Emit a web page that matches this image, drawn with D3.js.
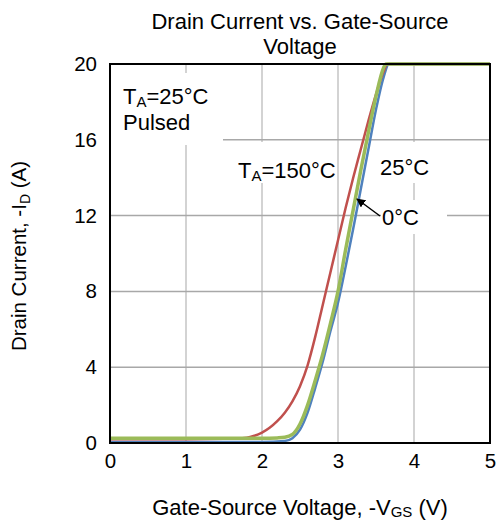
<!DOCTYPE html>
<html><head><meta charset="utf-8">
<script src="https://cdn.jsdelivr.net/npm/d3@7"></script>
<style>body{margin:0;background:#fff}svg{display:block}text{font-family:Arial,"Liberation Sans",sans-serif;fill:#000}</style>
</head><body>
<svg id="c" width="498" height="522"></svg>
<script>
const xTicks = [0,1,2,3,4,5];
const yTicks = [0,4,8,12,16,20];
const vgs150 = [0,1.0,1.5,1.8,1.9,2.0,2.1,2.2,2.3,2.4,2.5,2.6,2.7,2.8,2.9,3.0,3.1,3.2,3.3,3.4,3.5,3.6,3.65,4.0,5.0];
const id150  = [0.2,0.2,0.22,0.28,0.38,0.55,0.8,1.15,1.6,2.2,3.0,4.1,5.6,7.3,9.0,10.7,12.4,14.0,15.5,17.0,18.4,19.6,20,20,20];
const vgs25 = [0,1.0,2.0,2.2,2.3,2.4,2.5,2.6,2.7,2.8,2.9,3.0,3.1,3.2,3.3,3.4,3.5,3.6,3.63,4.0,5.0];
const id25  = [0.25,0.25,0.25,0.27,0.3,0.45,1.0,2.0,3.3,4.7,6.3,8.0,10.2,12.3,14.4,16.4,18.3,19.8,20,20,20];
const vgs0 = [0,1.0,2.0,2.3,2.4,2.5,2.6,2.7,2.8,2.9,3.0,3.1,3.2,3.3,3.4,3.5,3.6,3.67,4.0,5.0];
const id0  = [0.05,0.05,0.05,0.1,0.25,0.7,1.6,2.9,4.3,5.9,7.4,9.3,11.3,13.4,15.5,17.6,19.3,20,20,20];

const svg = d3.select("#c");
const x = d3.scaleLinear().domain([0,5]).range([110,490]);
const y = d3.scaleLinear().domain([0,20]).range([443,64]);
const FS = 22, TS = 20.5;

// gridlines
const g = svg.append("g");
g.selectAll(".vg").data(xTicks.slice(1,-1)).enter().append("line")
  .attr("x1",d=>x(d)).attr("x2",d=>x(d)).attr("y1",y(20)).attr("y2",y(0))
  .attr("stroke","#c4c4c4").attr("stroke-width",1.5);
g.selectAll(".hg").data(yTicks.slice(1,-1)).enter().append("line")
  .attr("x1",x(0)).attr("x2",x(5)).attr("y1",d=>y(d)).attr("y2",d=>y(d))
  .attr("stroke","#a8a8a8").attr("stroke-width",1.5);

// curves
const line = d3.line().x(d=>x(d[0])).y(d=>y(d[1])).curve(d3.curveMonotoneX);
const series = [
  {v:vgs0, i:id0, c:"#4f81bd", w:2.5},
  {v:vgs150, i:id150, c:"#c0504d", w:2.5},
  {v:vgs25, i:id25, c:"#9bbb59", w:3.5}
];
series.forEach(s=>{
  svg.append("path").datum(s.v.map((v,k)=>[v,s.i[k]]))
    .attr("d",line).attr("fill","none").attr("stroke",s.c).attr("stroke-width",s.w);
});

// label boxes
const boxes = [[111,73,112,72],[236,142,100,41],[378,142,56,41],[381,200,66,34]];
boxes.forEach(b=>svg.append("rect").attr("x",b[0]).attr("y",b[1]).attr("width",b[2]).attr("height",b[3]).attr("fill","#fff"));

// plot border
svg.append("rect").attr("x",x(0)).attr("y",y(20)).attr("width",x(5)-x(0)).attr("height",y(0)-y(20))
  .attr("fill","none").attr("stroke","#000").attr("stroke-width",2);

// axes
const xa = svg.append("g").attr("transform",`translate(0,${y(0)})`)
  .call(d3.axisBottom(x).tickValues(xTicks).tickSize(0).tickPadding(10).tickFormat(d3.format("d")));
xa.select(".domain").remove();
xa.selectAll("text").attr("font-size",TS).attr("font-family","Arial, Liberation Sans, sans-serif").attr("fill","#000");
const ya = svg.append("g").attr("transform",`translate(${x(0)},0)`)
  .call(d3.axisLeft(y).tickValues(yTicks).tickSize(0).tickPadding(13).tickFormat(d3.format("d")));
ya.select(".domain").remove();
ya.selectAll("text").attr("font-size",TS).attr("font-family","Arial, Liberation Sans, sans-serif").attr("fill","#000");

// title
svg.append("text").attr("x",300).attr("y",29).attr("text-anchor","middle").attr("font-size",FS).text("Drain Current vs. Gate-Source");
svg.append("text").attr("x",300).attr("y",54).attr("text-anchor","middle").attr("font-size",FS).text("Voltage");

// x title
const xt = svg.append("text").attr("x",300).attr("y",515).attr("text-anchor","middle").attr("font-size",FS);
xt.append("tspan").text("Gate-Source Voltage, -V");
xt.append("tspan").attr("font-size",15).attr("dy",2).text("GS");
xt.append("tspan").attr("dy",-2).text(" (V)");

// y title
const yt = svg.append("text").attr("transform","translate(26,256) rotate(-90)").attr("text-anchor","middle").attr("font-size",20.5);
yt.append("tspan").text("Drain Current, -I");
yt.append("tspan").attr("font-size",14).attr("dy",4).text("D");
yt.append("tspan").attr("dy",-4).text(" (A)");

// annotations
const t1 = svg.append("text").attr("x",123).attr("y",104).attr("font-size",FS);
t1.append("tspan").text("T");
t1.append("tspan").attr("font-size",15).attr("dy",3).text("A");
t1.append("tspan").attr("dy",-3).text("=25°C");
svg.append("text").attr("x",123).attr("y",130).attr("font-size",FS).text("Pulsed");

const t2 = svg.append("text").attr("x",238).attr("y",178).attr("font-size",FS);
t2.append("tspan").text("T");
t2.append("tspan").attr("font-size",15).attr("dy",3).text("A");
t2.append("tspan").attr("dy",-3).text("=150°C");

svg.append("text").attr("x",380).attr("y",175).attr("font-size",FS).text("25°C");
svg.append("text").attr("x",382).attr("y",225).attr("font-size",FS).text("0°C");

// arrow
svg.append("defs").append("marker").attr("id","ah").attr("viewBox","0 0 10 10").attr("refX",9).attr("refY",5)
  .attr("markerWidth",9).attr("markerHeight",9).attr("markerUnits","userSpaceOnUse").attr("orient","auto")
  .append("path").attr("d","M0,0L10,5L0,10z").attr("fill","#000");
svg.append("line").attr("x1",380).attr("y1",216).attr("x2",357).attr("y2",199)
  .attr("stroke","#000").attr("stroke-width",1.5).attr("marker-end","url(#ah)");
</script>
</body></html>
